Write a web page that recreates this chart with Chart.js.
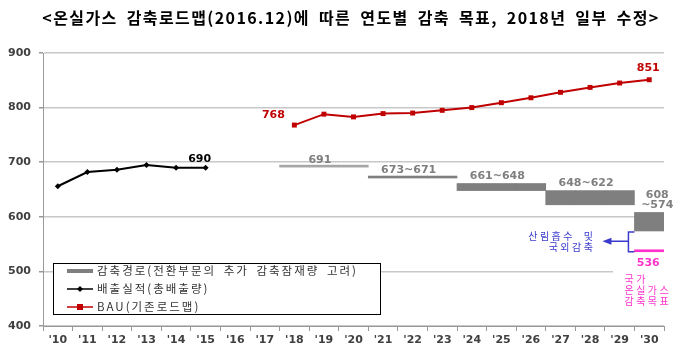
<!DOCTYPE html>
<html>
<head>
<meta charset="utf-8">
<script src="https://cdn.jsdelivr.net/npm/chart.js@4.4.1/dist/chart.umd.min.js"></script>
<style>
  html, body { margin: 0; padding: 0; background: #fff; }
</style>
</head>
<body>
<canvas id="grafico" width="699" height="360"></canvas>
<script>
// 데이터
const anos = ["'10", "'11", "'12", "'13", "'14", "'15", "'16", "'17", "'18", "'19", "'20",
              "'21", "'22", "'23", "'24", "'25", "'26", "'27", "'28", "'29", "'30"];
const ticksY = [400, 500, 600, 700, 800, 900];

const actual = [656, 682, 686, 695, 690, 690, null, null, null, null, null,
                null, null, null, null, null, null, null, null, null, null];
const bau = [null, null, null, null, null, null, null, null, 768, 788, 783,
             789, 790, 795, 800, 809, 818, 828, 837, 845, 851];
const caminoAlto = [null, null, null, null, null, null, null, null, 691, 691, 691,
                    673, 673, 673, 661, 661, 661, 648, 648, 648, 608];
const caminoBajo = [null, null, null, null, null, null, null, null, 691, 691, 691,
                    671, 671, 671, 648, 648, 648, 622, 622, 622, 574];
const meta = [null, null, null, null, null, null, null, null, null, null, null,
              null, null, null, null, null, null, null, null, null, 536];

// tramos de la ruta: [primer índice, último índice, texto]
const tramos = [[8, 10, ["691"]], [11, 13, ["673~671"]], [14, 16, ["661~648"]],
                [17, 19, ["648~622"]], [20, 20, ["608", "~574"]]];

const titulo = "<온실가스 감축로드맵(2016.12)에 따른 연도별 감축 목표, 2018년 일부 수정>";
const notaBosque = ["산림흡수 및", "국외감축"];
const notaMeta = ["국가", "온실가스", "감축목표"];

const KR = '"Noto Sans CJK KR", sans-serif';
const NUM = '"DejaVu Sans", sans-serif';

const colorRuta = anos.map((a, i) => i <= 10 ? "#a6a6a6" : "#7f7f7f");

function espaciado(ctx, letra, palabra) {
  ctx.letterSpacing = letra + "px";
  ctx.wordSpacing = palabra + "px";
}

const cabecera = {
  id: "cabecera",
  afterDraw(chart) {
    const { ctx } = chart;
    ctx.save();
    ctx.fillStyle = "#000";
    ctx.font = "bold 16px " + KR;
    ctx.textAlign = "center";
    ctx.textBaseline = "middle";
    espaciado(ctx, 1.4, 4);
    ctx.fillText(titulo, 351, 18);
    ctx.restore();
  }
};

const etiquetas = {
  id: "etiquetas",
  afterDatasetsDraw(chart) {
    const { ctx, scales: { x, y } } = chart;
    const paso = x.getPixelForValue(1) - x.getPixelForValue(0);
    ctx.save();
    ctx.textAlign = "center";
    ctx.textBaseline = "middle";
    ctx.font = "bold 11px " + NUM;

    // ruta de reducción
    ctx.fillStyle = "#7f7f7f";
    tramos.forEach(([a, b, txt]) => {
      let cx = (x.getPixelForValue(a) + x.getPixelForValue(b)) / 2;
      if (a === b) cx += 8; else cx -= 4;
      const top = y.getPixelForValue(caminoAlto[a]);
      txt.forEach((t, k) => {
        ctx.fillText(t, cx, top - 7 - (txt.length - 1 - k) * 10);
      });
    });

    // 실적
    ctx.fillStyle = "#000";
    ctx.fillText("690", x.getPixelForValue(5) - 6, y.getPixelForValue(actual[5]) - 9);
    // BAU
    ctx.fillStyle = "#c00000";
    ctx.fillText(String(bau[8]), x.getPixelForValue(8) - 21, y.getPixelForValue(bau[8]) - 10);
    ctx.fillText(String(bau[20]), x.getPixelForValue(20) - 1, y.getPixelForValue(bau[20]) - 12);

    // 산림흡수 및 국외감축
    const izq = x.getPixelForValue(20) - paso / 2;
    const yA = y.getPixelForValue(caminoBajo[20]);
    const yB = y.getPixelForValue(meta[20]);
    const xb = izq - 6;
    const ym = (yA + yB) / 2;
    ctx.strokeStyle = "#3a3acc";
    ctx.fillStyle = "#3a3acc";
    ctx.lineWidth = 1.5;
    ctx.beginPath();
    ctx.moveTo(izq, yA + 1);
    ctx.lineTo(xb, yA + 1);
    ctx.lineTo(xb, yB);
    ctx.lineTo(izq, yB);
    ctx.moveTo(xb, ym);
    ctx.lineTo(xb - 18, ym);
    ctx.stroke();
    ctx.beginPath();
    ctx.moveTo(xb - 26, ym);
    ctx.lineTo(xb - 17, ym - 3.5);
    ctx.lineTo(xb - 17, ym + 3.5);
    ctx.closePath();
    ctx.fill();
    ctx.textAlign = "right";
    ctx.font = "10px " + KR;
    espaciado(ctx, 2.5, 4);
    notaBosque.forEach((t, k) => ctx.fillText(t, xb - 33, ym - 5 + k * 11));

    // 국가 온실가스 감축목표
    espaciado(ctx, 0, 0);
    ctx.fillStyle = "#fff";
    ctx.fillRect(613, y.getPixelForValue(500) - 4, 86, 40);
    ctx.fillStyle = "#ff33cc";
    ctx.textAlign = "center";
    ctx.font = "bold 11px " + NUM;
    ctx.fillText(String(meta[20]), x.getPixelForValue(20) - 1, yB + 11);
    ctx.textAlign = "left";
    ctx.font = "10px " + KR;
    espaciado(ctx, 2.5, 4);
    notaMeta.forEach((t, k) => ctx.fillText(t, izq - 10, yB + 27 + k * 11));
    ctx.restore();
  }
};

const leyenda = {
  id: "leyenda",
  afterDatasetsDraw(chart) {
    const { ctx } = chart;
    const items = chart.data.datasets.filter(d => d.enLeyenda);
    ctx.save();
    ctx.fillStyle = "#fff";
    ctx.fillRect(53.5, 263.5, 327, 51);
    ctx.strokeStyle = "#000";
    ctx.lineWidth = 1;
    ctx.strokeRect(53.5, 263.5, 327, 51);
    items.forEach((d, i) => {
      const yy = 271 + i * 18;
      if (d.type === "bar") {
        ctx.fillStyle = "#7f7f7f";
        ctx.fillRect(67, yy - 2, 26, 4);
      } else {
        ctx.strokeStyle = d.borderColor;
        ctx.lineWidth = 1.5;
        ctx.beginPath();
        ctx.moveTo(67, yy);
        ctx.lineTo(93, yy);
        ctx.stroke();
        ctx.fillStyle = d.borderColor;
        if (d.pointStyle === "rect") {
          ctx.fillRect(77, yy - 3, 6, 6);
        } else {
          ctx.beginPath();
          ctx.moveTo(80, yy - 3);
          ctx.lineTo(83, yy);
          ctx.lineTo(80, yy + 3);
          ctx.lineTo(77, yy);
          ctx.closePath();
          ctx.fill();
        }
      }
      ctx.fillStyle = "#333";
      ctx.font = "11.5px " + KR;
      ctx.textAlign = "left";
      ctx.textBaseline = "middle";
      espaciado(ctx, 2, 3);
      ctx.fillText(d.label, 97, yy);
      espaciado(ctx, 0, 0);
    });
    ctx.restore();
  }
};

new Chart(document.getElementById("grafico"), {
  data: {
    labels: anos,
    datasets: [
      {
        type: "bar",
        label: "감축경로(전환부문의 추가 감축잠재량 고려)",
        data: caminoBajo.map((v, i) => v === null ? null : [v, caminoAlto[i]]),
        backgroundColor: colorRuta,
        barPercentage: 1,
        categoryPercentage: 1,
        minBarLength: 2,
        grouped: false,
        enLeyenda: true,
        order: 3
      },
      {
        type: "bar",
        label: "국가 온실가스 감축목표",
        data: meta.map(v => v === null ? null : [v, v]),
        backgroundColor: "#ff33cc",
        barPercentage: 1,
        categoryPercentage: 1,
        minBarLength: 2,
        grouped: false,
        order: 3
      },
      {
        type: "line",
        label: "배출실적(총배출량)",
        data: actual,
        borderColor: "#000",
        backgroundColor: "#000",
        borderWidth: 2,
        pointStyle: "rectRot",
        pointRadius: 3,
        pointBorderWidth: 0,
        enLeyenda: true,
        order: 1
      },
      {
        type: "line",
        label: "BAU(기존로드맵)",
        data: bau,
        borderColor: "#c00000",
        backgroundColor: "#c00000",
        borderWidth: 2,
        pointStyle: "rect",
        pointRadius: 3.5,
        pointBorderWidth: 0,
        enLeyenda: true,
        order: 2
      }
    ]
  },
  options: {
    responsive: false,
    animation: false,
    layout: { padding: { top: 53, right: 35, bottom: 0, left: 0 } },
    plugins: {
      legend: { display: false },
      tooltip: { enabled: false },
      title: { display: false }
    },
    scales: {
      x: {
        offset: true,
        grid: { offset: true, drawOnChartArea: false, drawTicks: true, tickLength: 5, tickColor: "#999" },
        border: { color: "#999", width: 1 },
        ticks: { color: "#404040", font: { family: NUM, size: 11, weight: "bold" }, padding: 3, maxRotation: 0, autoSkip: false },
        afterFit: s => { s.height = 34; }
      },
      y: {
        min: 400,
        max: 900,
        afterBuildTicks: s => { s.ticks = ticksY.map(v => ({ value: v })); },
        grid: { color: "#c8c8c8", lineWidth: 1.5, tickLength: 4, tickColor: "#999" },
        border: { color: "#999", width: 1 },
        ticks: { color: "#404040", font: { family: NUM, size: 11, weight: "bold" }, padding: 8 },
        afterFit: s => { s.width = 43; }
      }
    }
  },
  plugins: [etiquetas, leyenda, cabecera]
});
</script>
</body>
</html>
